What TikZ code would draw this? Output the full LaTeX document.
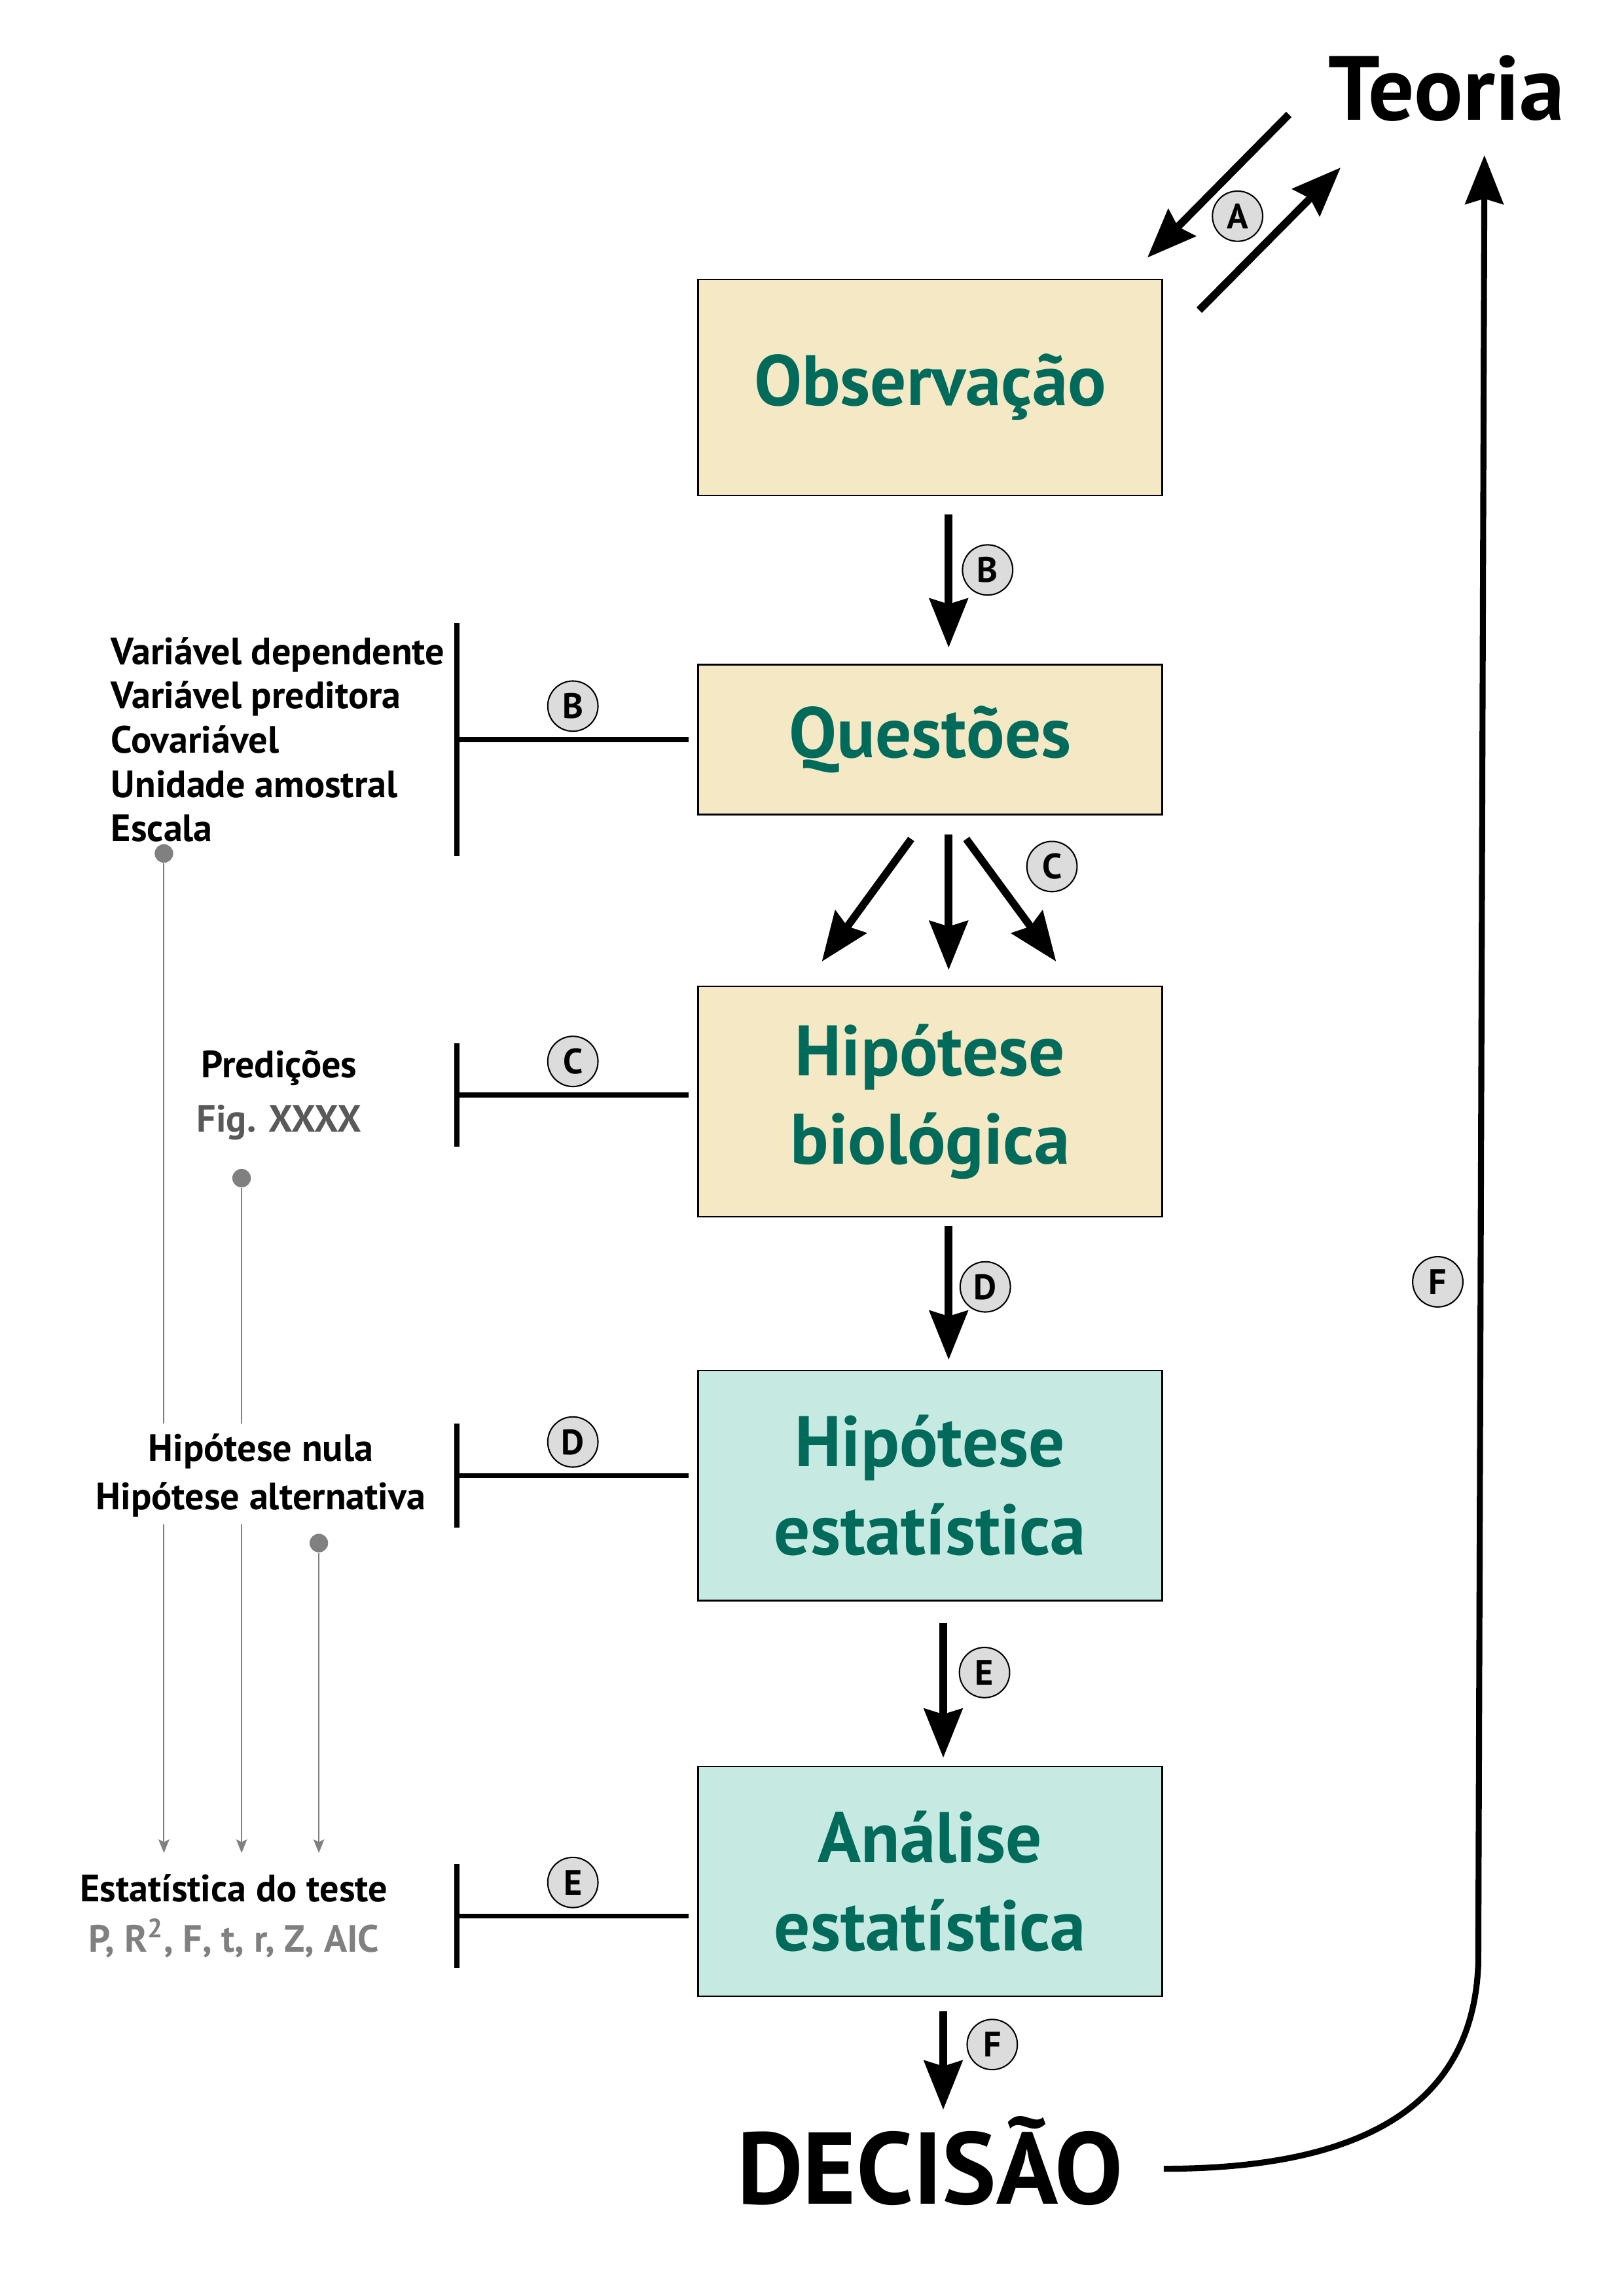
\documentclass[tikz,border=0pt]{standalone}
\usepackage{fontspec}
\setmainfont{PT Sans}
\usetikzlibrary{arrows.meta,positioning,calc}

\definecolor{beige}{HTML}{F5E8C4}
\definecolor{mint}{HTML}{C6EAE2}
\definecolor{tealtxt}{HTML}{006A5B}
\definecolor{pingray}{HTML}{808080}
\definecolor{figgray}{HTML}{595959}
\definecolor{circgray}{HTML}{DCDCDC}

\begin{document}
\begin{tikzpicture}[every node/.style={font=\bfseries}, box/.style={draw, line width=0.6pt, align=center, minimum width=6cm, text=tealtxt, font=\fontsize{26.3}{32.5}\selectfont\bfseries}, bio/.style={box, fill=beige}, stat/.style={box, fill=mint}, arrow/.style={-{Stealth[length=18pt, width=14pt, inset=2pt]}, line width=2.8pt}, bar/.style={line width=1.8pt}, circ/.style={circle, draw, line width=0.5pt, fill=circgray, minimum size=0.65cm, inner sep=0pt, font=\fontsize{13}{13}\selectfont\bfseries}, side/.style={inner sep=0pt, font=\fontsize{14}{16.3}\selectfont\bfseries}, pin/.style={draw=pingray, line width=0.5pt}, pinarrow/.style={pin, -{Stealth[length=5pt, width=4pt, inset=1pt]}}, pindot/.style={circle, fill=pingray, minimum size=0.24cm, inner sep=0pt}, big/.style={inner sep=0pt, text depth=0pt}]
\useasboundingbox (0,0) rectangle (21,-29.7);
% main column
\node[bio, minimum height=2.794cm] (obs) at (12.03,-5.01) {Observação};
\node[bio, minimum height=1.939cm, below=2.17cm of obs] (quest) {Questões};
\node[bio, minimum height=2.981cm, below=2.2cm of quest] (hbio) {Hipótese\\biológica};
\node[stat, minimum height=2.972cm, below=1.97cm of hbio] (hest) {Hipótese\\estatística};
\node[stat, minimum height=2.972cm, below=2.125cm of hest] (anal) {Análise\\estatística};
\node[big, font=\fontsize{33.5}{33.5}\selectfont\bfseries, text height=23pt, anchor=base] (teoria) at (18.71,-1.55) {Teoria};
\node[big, font=\fontsize{37.5}{37.5}\selectfont\bfseries, text height=26pt, below=2.68cm of anal, anchor=base] (dec) {DECISÃO};
% A
\draw[arrow] ([shift={(-2.04,0.076)}]teoria.south) -- ([shift={(-0.2,0.27)}]obs.north east);
\draw[arrow] ([shift={(0.47,-0.41)}]obs.north east) -- ([shift={(-1.37,-0.61)}]teoria.south);
\node[circ, above right=0.57cm and 0.73cm of obs.north east] (cA) {A};
% B to F
\draw[arrow, shorten <=0.24cm, shorten >=0.21cm] ([xshift=0.24cm]obs.south) -- node[circ, pos=0.44, right=1.7mm] (cB) {B} ([xshift=0.24cm]quest.north);
\draw[arrow] ([shift={(-0.245,-0.305)}]quest.south) -- ([shift={(-1.40,0.31)}]hbio.north);
\draw[arrow, shorten <=0.25cm, shorten >=0.2cm] ([xshift=0.24cm]quest.south) -- ([xshift=0.24cm]hbio.north);
\draw[arrow] ([shift={(0.468,-0.305)}]quest.south) -- ([shift={(1.63,0.31)}]hbio.north);
\node[circ, below right=0.425cm and 1.34cm of quest.south] (cC) {C};
\draw[arrow, shorten <=0.11cm, shorten >=0.13cm] ([xshift=0.24cm]hbio.south) -- node[circ, pos=0.455, right=1.4mm] (cD) {D} ([xshift=0.24cm]hest.north);
\draw[arrow, shorten <=0.28cm, shorten >=0.1cm] ([xshift=0.17cm]hest.south) -- node[circ, pos=0.434, right=2mm] (cE) {E} ([xshift=0.17cm]anal.north);
\draw[arrow, shorten <=0.19cm, shorten >=0.3cm] ([xshift=0.17cm]anal.south) -- node[circ, pos=0.35, right=3mm] (cF) {F} ([xshift=0.17cm]dec.north);
% back to theory
\coordinate (ftop) at ([shift={(0.49,-0.45)}]teoria.south);
\coordinate (fbend) at (19.12,-25.40);
\draw[arrow, line width=2.2pt] ([xshift=0.52cm]dec.east) .. controls +(2.79,0) and +(-0.06,-1.69) .. (fbend) -- node[circ, pos=0.377, left=2.2mm] (cF2) {F} (ftop);
% brackets on the left
\draw[bar] ([xshift=-0.11cm]quest.west) -- node[circ, midway, above=1mm] (lB) {B} ++(-3cm,0) coordinate (bB);
\draw[bar] ([yshift=1.51cm]bB) -- ([yshift=-1.51cm]bB);
\draw[bar] ([shift={(-0.11,0.085)}]hbio.west) -- node[circ, midway, above=1mm] (lC) {C} ++(-3cm,0) coordinate (bC);
\draw[bar] ([yshift=0.67cm]bC) -- ([yshift=-0.67cm]bC);
\draw[bar] ([shift={(-0.11,0.13)}]hest.west) -- node[circ, midway, above=1mm] (lD) {D} ++(-3cm,0) coordinate (bD);
\draw[bar] ([yshift=0.67cm]bD) -- ([yshift=-0.67cm]bD);
\draw[bar] ([shift={(-0.11,-0.45)}]anal.west) -- node[circ, midway, above=1mm] (lE) {E} ++(-3cm,0) coordinate (bE);
\draw[bar] ([yshift=0.67cm]bE) -- ([yshift=-0.67cm]bE);
% side texts
\node[side, align=left, left=0.15cm of bB] (vars) {Variável dependente\\Variável preditora\\Covariável\\Unidade amostral\\Escala};
\node[side, align=center, font=\fontsize{14}{20}\selectfont\bfseries, left=1.23cm of bC] (pred) {Predições\\\textcolor{figgray}{Fig. XXXX}};
\node[side, align=center, font=\fontsize{14}{18}\selectfont\bfseries, left=0.4cm of bD] (hyp) {Hipótese nula\\Hipótese alternativa};
\node[side, align=center, font=\fontsize{14}{18.5}\selectfont\bfseries, left=0.89cm of bE] (tstat) {Estatística do teste\\\textcolor{pingray}{P, R\textsuperscript{2}, F, t, r, Z, AIC}};
% pins
\node[pindot] (dB) at (2.12,-11.04) {};
\node[pindot] (dC) at (3.125,-15.24) {};
\node[pindot] (dD) at (4.124,-19.96) {};
\draw[pin, shorten >=1.2mm] (dB) -- (dB |- hyp.north);
\draw[pinarrow, shorten <=0.8mm, shorten >=0.27cm] (dB |- hyp.south) -- (dB |- tstat.north);
\draw[pin, shorten >=1.2mm] (dC) -- (dC |- hyp.north);
\draw[pinarrow, shorten <=0.8mm, shorten >=0.27cm] (dC |- hyp.south) -- (dC |- tstat.north);
\draw[pinarrow, shorten >=0.27cm] (dD) -- (dD |- tstat.north);
\end{tikzpicture}
\end{document}
